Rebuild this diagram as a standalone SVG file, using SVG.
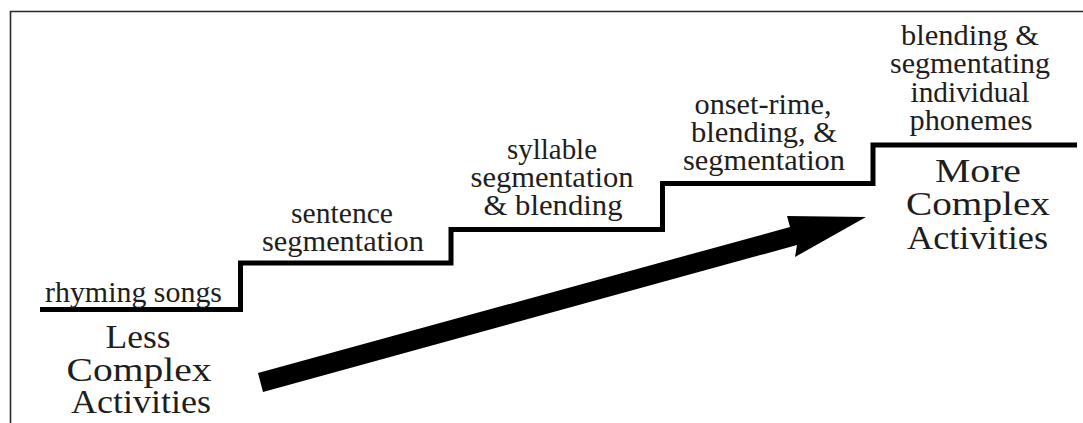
<svg xmlns="http://www.w3.org/2000/svg" width="1083" height="423" viewBox="0 0 1083 423">
  <style>
    text { font-family: 'Liberation Serif', 'DejaVu Serif', 'Noto Serif', serif; fill: #1e1e1e; text-anchor: middle; }
    .lbl { font-size: 30px; }
    .big { font-size: 34px; }
    .stair { fill: none; stroke: #000; stroke-width: 5; stroke-linejoin: miter; stroke-linecap: butt; }
  </style>
  <rect width="1083" height="423" fill="#fff"/>
  <!-- frame: left and top edges only are in view -->
  <path d="M10.5,423 V11.5 H1083" fill="none" stroke="#2a2a2a" stroke-width="1.6"/>

  <g id="connectors">
    <!-- staircase of activity levels -->
    <path id="staircase" class="stair" d="M40,309.5 H240.5 V263 H451 V229.5 H662.5 V183.5 H873 V145 H1077"/>
    <!-- rising arrow -->
    <polygon id="arrow" fill="#000" points="258,373 790,227 787,216 866,217 795,257 797,245 263,392"/>
  </g>

  <g id="less-complex">
    <text class="big" x="138" y="348" textLength="65" lengthAdjust="spacingAndGlyphs">Less</text>
    <text class="big" x="139" y="381" textLength="145" lengthAdjust="spacingAndGlyphs">Complex</text>
    <text class="big" x="141" y="413" textLength="140" lengthAdjust="spacingAndGlyphs">Activities</text>
  </g>

  <g id="step-rhyming">
    <text class="lbl" x="133.5" y="302" textLength="177" lengthAdjust="spacingAndGlyphs">rhyming songs</text>
  </g>

  <g id="step-sentence">
    <text class="lbl" x="342" y="223" textLength="102" lengthAdjust="spacingAndGlyphs">sentence</text>
    <text class="lbl" x="343" y="251" textLength="162" lengthAdjust="spacingAndGlyphs">segmentation</text>
  </g>

  <g id="step-syllable">
    <text class="lbl" x="552" y="159" textLength="90" lengthAdjust="spacingAndGlyphs">syllable</text>
    <text class="lbl" x="552" y="187" textLength="163" lengthAdjust="spacingAndGlyphs">segmentation</text>
    <text class="lbl" x="553" y="215" textLength="139" lengthAdjust="spacingAndGlyphs">&amp; blending</text>
  </g>

  <g id="step-onset">
    <text class="lbl" x="763" y="114" textLength="137" lengthAdjust="spacingAndGlyphs">onset-rime,</text>
    <text class="lbl" x="764" y="142" textLength="146" lengthAdjust="spacingAndGlyphs">blending, &amp;</text>
    <text class="lbl" x="764" y="170" textLength="162" lengthAdjust="spacingAndGlyphs">segmentation</text>
  </g>

  <g id="step-phonemes">
    <text class="lbl" x="970" y="45" textLength="138" lengthAdjust="spacingAndGlyphs">blending &amp;</text>
    <text class="lbl" x="970" y="73" textLength="160" lengthAdjust="spacingAndGlyphs">segmentating</text>
    <text class="lbl" x="970" y="101.5" textLength="119" lengthAdjust="spacingAndGlyphs">individual</text>
    <text class="lbl" x="971" y="130" textLength="123" lengthAdjust="spacingAndGlyphs">phonemes</text>
  </g>

  <g id="more-complex">
    <text class="big" x="978" y="181.5" textLength="86" lengthAdjust="spacingAndGlyphs">More</text>
    <text class="big" x="978" y="215" textLength="144" lengthAdjust="spacingAndGlyphs">Complex</text>
    <text class="big" x="977.5" y="249" textLength="141" lengthAdjust="spacingAndGlyphs">Activities</text>
  </g>
</svg>
